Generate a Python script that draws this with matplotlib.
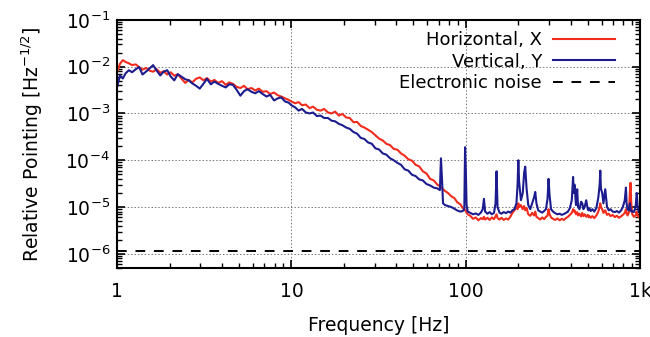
import numpy as np
import matplotlib
matplotlib.use("Agg")
import matplotlib.pyplot as plt
from matplotlib.ticker import LogLocator, NullFormatter

plt.rcParams['font.family'] = ['DejaVu Sans']

# frequency points [Hz]
freq = [
    # 1 - 10 Hz
    1.0, 1.04, 1.08, 1.12, 1.17, 1.22, 1.28, 1.34, 1.4, 1.47, 1.54, 1.61, 1.69,
    1.77, 1.85, 1.94, 2.03, 2.13, 2.23, 2.34, 2.46, 2.58, 2.7, 2.84, 2.98, 3.13,
    3.28, 3.45, 3.62, 3.8, 4.0, 4.2, 4.4, 4.62, 4.85, 5.1, 5.35, 5.6, 5.9, 6.2,
    6.5, 6.85, 7.2, 7.55, 7.95, 8.35, 8.75, 9.2, 9.65,
    # 10 - 100 Hz
    10, 10.5, 11, 11.5, 12.1, 12.7, 13.3, 14, 14.7, 15.4, 16.2, 17, 17.8, 18.7,
    19.6, 20.6, 21.6, 22.7, 23.8, 25, 26.2, 27.5, 28.9, 30.3, 31.8, 33.4, 35,
    36.8, 38.6, 40.5, 42.5, 44.6, 46.8, 49.1, 51.5, 54, 56.7, 59.5, 62.4, 65.5,
    68.7, 71, 72, 73, 74, 76, 79, 82.5, 86, 89.5, 93, 96, 98, 99, 100, 101, 102.5,
    # 100 - 1000 Hz
    106, 110, 114, 118, 122, 125, 127, 129, 133, 137, 141, 145, 148, 150, 152,
    156, 160, 165, 170, 175, 180, 185, 190, 195, 198, 200, 202, 207, 212, 216,
    219, 223, 228, 234, 240, 246, 250, 254, 260, 267, 274, 281, 288, 294, 298,
    302, 308, 316, 325, 335, 345, 355, 365, 375, 385, 395, 405, 412, 416, 420,
    428, 435, 440, 448, 458, 465, 472, 480, 490, 500, 505, 510, 520, 532, 545,
    560, 575, 585, 590, 595, 605, 615, 630, 645, 660, 675, 695, 715, 735, 755,
    775, 795, 815, 828, 835, 845, 860, 872, 880, 888, 900, 920, 940, 955, 965,
    980, 1000,
]

# horizontal pointing, units of 1e-6 Hz^-1/2
horiz = [
    7600, 11500, 13800, 12600, 11800, 10800, 11200, 9800, 8600, 9400, 8200, 7800,
    8800, 7400, 8000, 6800, 7600, 6400, 6900, 5600, 4500, 5200, 4600, 5500, 5900,
    5100, 5700, 4800, 5200, 4500, 4900, 4100, 4600, 4300, 3700, 3500, 3900, 3300,
    3500, 3100, 3400, 2900, 3000, 2600, 2800, 2450, 2300, 2100, 1950,
    1800, 1650, 1750, 1500, 1550, 1300, 1400, 1200, 1150, 1250, 1050, 1000, 1100,
    900, 980, 820, 800, 650, 660, 540, 500, 450, 400, 340, 290, 265, 225, 210,
    175, 168, 140, 125, 105, 98, 80, 74, 58, 52, 40, 37, 30, 28, 26, 25.5, 24, 22,
    20, 17, 15.5, 12.5, 11.5, 9.5, 9.2, 8.5, 8.2, 7.5, 7,
    6.5, 5.6, 6.0, 5.2, 5.8, 5.5, 6.2, 5.4, 5.9, 5.3, 6.0, 5.5, 6.4, 7, 5.8, 5.4,
    5.9, 5.3, 5.7, 5.4, 6.2, 7.5, 8.5, 10, 9, 12, 10, 11, 9, 10.5, 8.5, 9.5, 7,
    6.5, 7.5, 6.6, 8, 6.2, 5.8, 5.4, 6.0, 5.5, 6.2, 6.5, 9, 7, 6.0, 5.6, 5.3, 5.7,
    5.2, 5.6, 5.3, 5.8, 6.2, 6.8, 7.5, 9, 8, 8.5, 7, 7.8, 6.6, 7.2, 6.3, 7.5, 6.4,
    7, 6.2, 6.8, 6.1, 6.5, 5.9, 6.4, 5.8, 6.6, 8, 10, 12, 10, 9, 7.5, 8.5, 6.8,
    7.2, 6.4, 6.8, 6.1, 6.5, 5.9, 6.3, 6.8, 7.5, 9, 7.5, 6.6, 7.5, 20, 33, 12, 7,
    6.2, 6.6, 8, 6.8, 6, 6.2,
]

# vertical pointing, units of 1e-6 Hz^-1/2
vert = [
    3600, 6500, 5600, 7200, 8400, 7600, 8800, 9800, 6800, 7900, 9200, 10800, 8200,
    6500, 7800, 8400, 6200, 5100, 6900, 6100, 5400, 5100, 4400, 3900, 3400, 4300,
    5500, 4200, 4800, 4300, 3900, 3600, 4200, 4100, 3200, 2400, 3000, 3300, 2900,
    2700, 3000, 2600, 2300, 2500, 1900, 2100, 2200, 1800, 1700,
    1500, 1350, 1150, 1250, 1050, 1000, 1050, 880, 900, 800, 800, 700, 680, 600,
    560, 500, 470, 400, 370, 300, 285, 240, 225, 180, 170, 140, 132, 110, 100, 88,
    80, 64, 60, 49, 46, 39, 37, 31, 29, 26, 25, 23, 110, 40, 12, 11, 10.5, 10,
    9.2, 8.4, 8, 8.2, 9, 190, 60, 11, 8,
    7.5, 7.0, 7.3, 6.8, 7.6, 9, 15, 8, 7.2, 7.8, 7.0, 7.5, 12, 58, 10, 7.6, 7.2,
    7.8, 7.4, 8.0, 7.6, 8.5, 9, 12, 30, 100, 35, 14, 20, 55, 73, 25, 11, 9, 12,
    16, 21, 12, 8.5, 8, 7.6, 8.2, 9, 15, 40, 18, 9, 8, 7.4, 7.0, 7.2, 6.8, 7.1,
    7.5, 8, 9.5, 14, 44, 20, 30, 11, 24, 10, 9, 13, 12, 9, 10, 14, 9, 8.5, 9.5,
    8.2, 9, 8, 9.5, 16, 30, 60, 25, 20, 12, 24, 10, 8.5, 9, 8, 7.8, 8.2, 7.6, 8.4,
    10, 14, 26, 12, 9, 8.5, 12, 9, 8, 8.2, 7.8, 10, 20, 11, 8, 9,
]

noise_freq = [1, 1000]
noise_level = [1.15e-6, 1.15e-6]

xticks = [1, 10, 100, 1000]
xtick_labels = ['1', '10', '100', '1k']

fig = plt.figure(figsize=(6.5, 3.37), dpi=100)
ax = fig.add_axes([0.18, 0.205, 0.805, 0.736])

scale = 1e-6
ax.plot(freq, np.array(horiz) * scale, color='#f22c1c', lw=1.5, label='Horizontal, X')
ax.plot(freq, np.array(vert) * scale, color='#1c1c8e', lw=1.5, label='Vertical, Y')
ax.plot(noise_freq, noise_level, color='black', lw=1.4, ls=(0, (5, 4.5)),
        label='Electronic noise')

ax.set_xscale('log')
ax.set_yscale('log')
ax.set_xlim(1, 1000)
ax.set_ylim(5e-7, 1e-1)

ax.set_xticks(xticks)
ax.set_xticklabels(xtick_labels)
ax.xaxis.set_minor_locator(LogLocator(base=10, subs=np.arange(2, 10)))
ax.xaxis.set_minor_formatter(NullFormatter())
ax.yaxis.set_major_locator(LogLocator(base=10, numticks=10))
ax.yaxis.set_minor_locator(LogLocator(base=10, subs=np.arange(2, 10), numticks=20))
ax.yaxis.set_minor_formatter(NullFormatter())

ax.tick_params(which='both', direction='in', top=True, right=True)
ax.tick_params(which='major', length=6, width=1.2, labelsize=13.5)
ax.tick_params(axis='x', which='major', pad=10)
ax.tick_params(axis='y', which='major', pad=5)
ax.tick_params(which='minor', length=3.5, width=1.0)
ax.grid(True, which='major', color='#777777', ls=(0, (1.5, 2)), lw=0.7)
for sp in ax.spines.values():
    sp.set_linewidth(1.5)

ax.set_xlabel('Frequency [Hz]', fontsize=13.5, labelpad=11)
ax.set_ylabel('Relative Pointing [Hz$^{-1/2}$]', fontsize=13.5, labelpad=15)

ax.legend(loc='upper right', bbox_to_anchor=(0.952, 0.955), frameon=False,
          markerfirst=False, fontsize=13, handlelength=3.45, handletextpad=0.6,
          labelspacing=0.2, borderpad=0, borderaxespad=0)

fig.savefig('out.png', dpi=100)
